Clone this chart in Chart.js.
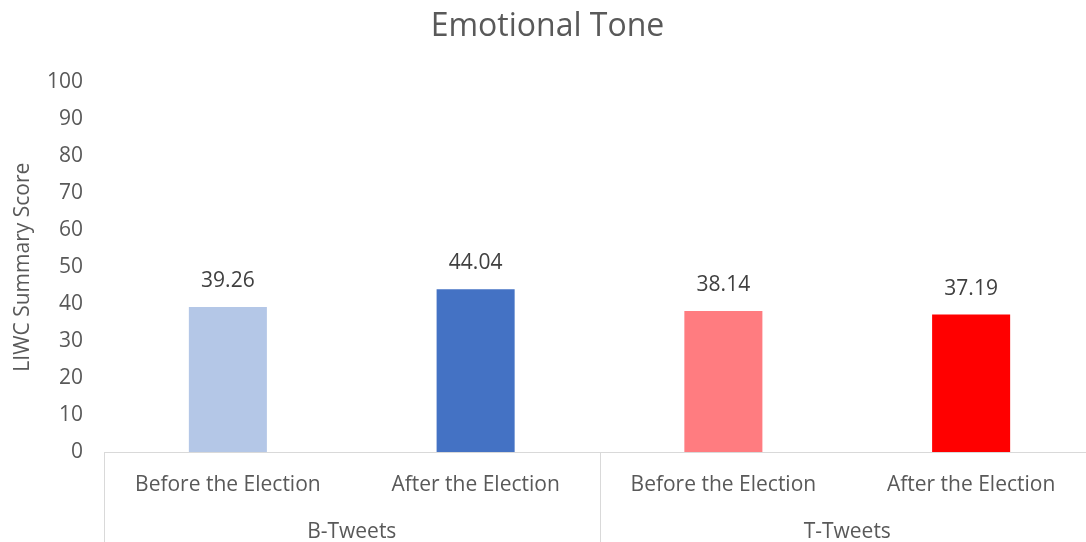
<!DOCTYPE html>
<html>
<head>
<meta charset="utf-8">
<title>Emotional Tone</title>
<script src="https://cdn.jsdelivr.net/npm/chart.js@4/dist/chart.umd.min.js"></script>
<style>
  html, body { margin: 0; padding: 0; background: #ffffff; overflow: hidden; }
  #frame { width: 1086px; height: 542px; overflow: hidden; position: relative; }
  /* plot runs a little past the right edge, so the last divider is cut off */
  #wrap { width: 1095px; height: 542px; position: absolute; left: 0; top: 0; }
</style>
</head>
<body>
<div id="frame"><div id="wrap"><canvas id="toneChart"></canvas></div></div>
<script>
/* ===========================
   DATA
=========================== */
const periods = ["Before the Election", "After the Election", "Before the Election", "After the Election"];
const groups = ["B-Tweets", "T-Tweets"];
const toneScores = [39.26, 44.04, 38.14, 37.19];
const barColors = ["#B4C7E7", "#4472C4", "#FF7C80", "#FF0000"];
const yTicks = [0, 10, 20, 30, 40, 50, 60, 70, 80, 90, 100];

const FONT = "'Open Sans', 'Noto Sans', sans-serif";
const AXIS_GREY = "#D9D9D9";

/* ===========================
   PLUGINS
=========================== */

// value above each bar
const valueLabels = {
    id: "valueLabels",
    afterDatasetsDraw(chart){
        const ctx = chart.ctx;
        const meta = chart.getDatasetMeta(0);
        ctx.save();
        ctx.font = "21px " + FONT;
        ctx.fillStyle = "#404040";
        ctx.textAlign = "center";
        ctx.textBaseline = "middle";
        meta.data.forEach((bar, i) => {
            ctx.fillText(toneScores[i].toFixed(2), bar.x, bar.y - 26);
        });
        ctx.restore();
    }
};

// second row of category labels with the divider lines
const groupAxis = {
    id: "groupAxis",
    afterDraw(chart){
        const ctx = chart.ctx;
        const x = chart.scales.x;
        const area = chart.chartArea;
        const per = periods.length / groups.length;
        const step = (x.right - x.left) / periods.length;
        ctx.save();
        ctx.strokeStyle = AXIS_GREY;
        ctx.lineWidth = 1;
        for(let g = 0; g <= groups.length; g++){
            const px = Math.round(x.left + g * per * step) + 0.5;
            ctx.beginPath();
            ctx.moveTo(px, area.bottom);
            ctx.lineTo(px, chart.height);
            ctx.stroke();
        }
        ctx.font = "21px " + FONT;
        ctx.fillStyle = "#595959";
        ctx.textAlign = "center";
        ctx.textBaseline = "middle";
        groups.forEach((name, g) => {
            const cx = x.left + (g + 0.5) * per * step;
            ctx.fillText(name, cx, area.bottom + 80);
        });
        ctx.restore();
    }
};

/* ===========================
   BAR CHART
=========================== */
const toneChart = new Chart(document.getElementById("toneChart"), {

    type: "bar",

    data: {
        labels: periods,
        datasets: [
            {
                label: "Emotional Tone",
                data: toneScores,
                backgroundColor: barColors,
                categoryPercentage: 1,
                barPercentage: 0.315
            }
        ]
    },

    options: {
        responsive: true,
        maintainAspectRatio: false,
        animation: false,
        layout: {
            padding: { top: 0, bottom: 0, left: 0, right: 0 }
        },
        plugins: {
            legend: { display: false },
            tooltip: { enabled: false },
            title: {
                display: true,
                text: "Emotional Tone",
                color: "#595959",
                font: { family: FONT, size: 32, weight: "normal" },
                padding: { top: 8, bottom: 36 }
            }
        },
        scales: {
            x: {
                grid: { display: false, drawTicks: false },
                border: { display: true, color: AXIS_GREY, width: 1 },
                ticks: {
                    color: "#595959",
                    font: { family: FONT, size: 21 },
                    padding: 20,
                    maxRotation: 0
                },
                afterFit(scale){ scale.height = 90; }
            },
            y: {
                min: 0,
                max: 100,
                grid: { display: false, drawTicks: false },
                border: { display: false },
                afterBuildTicks(scale){
                    scale.ticks = yTicks.map(v => ({ value: v }));
                },
                ticks: {
                    color: "#595959",
                    font: { family: FONT, size: 21 },
                    padding: 21
                },
                title: {
                    display: true,
                    text: "LIWC Summary Score",
                    color: "#595959",
                    font: { family: FONT, size: 21 },
                    padding: { top: 10, bottom: 0 }
                },
                afterFit(scale){ scale.width = 104; }
            }
        }
    },

    plugins: [valueLabels, groupAxis]

});
</script>
</body>
</html>
